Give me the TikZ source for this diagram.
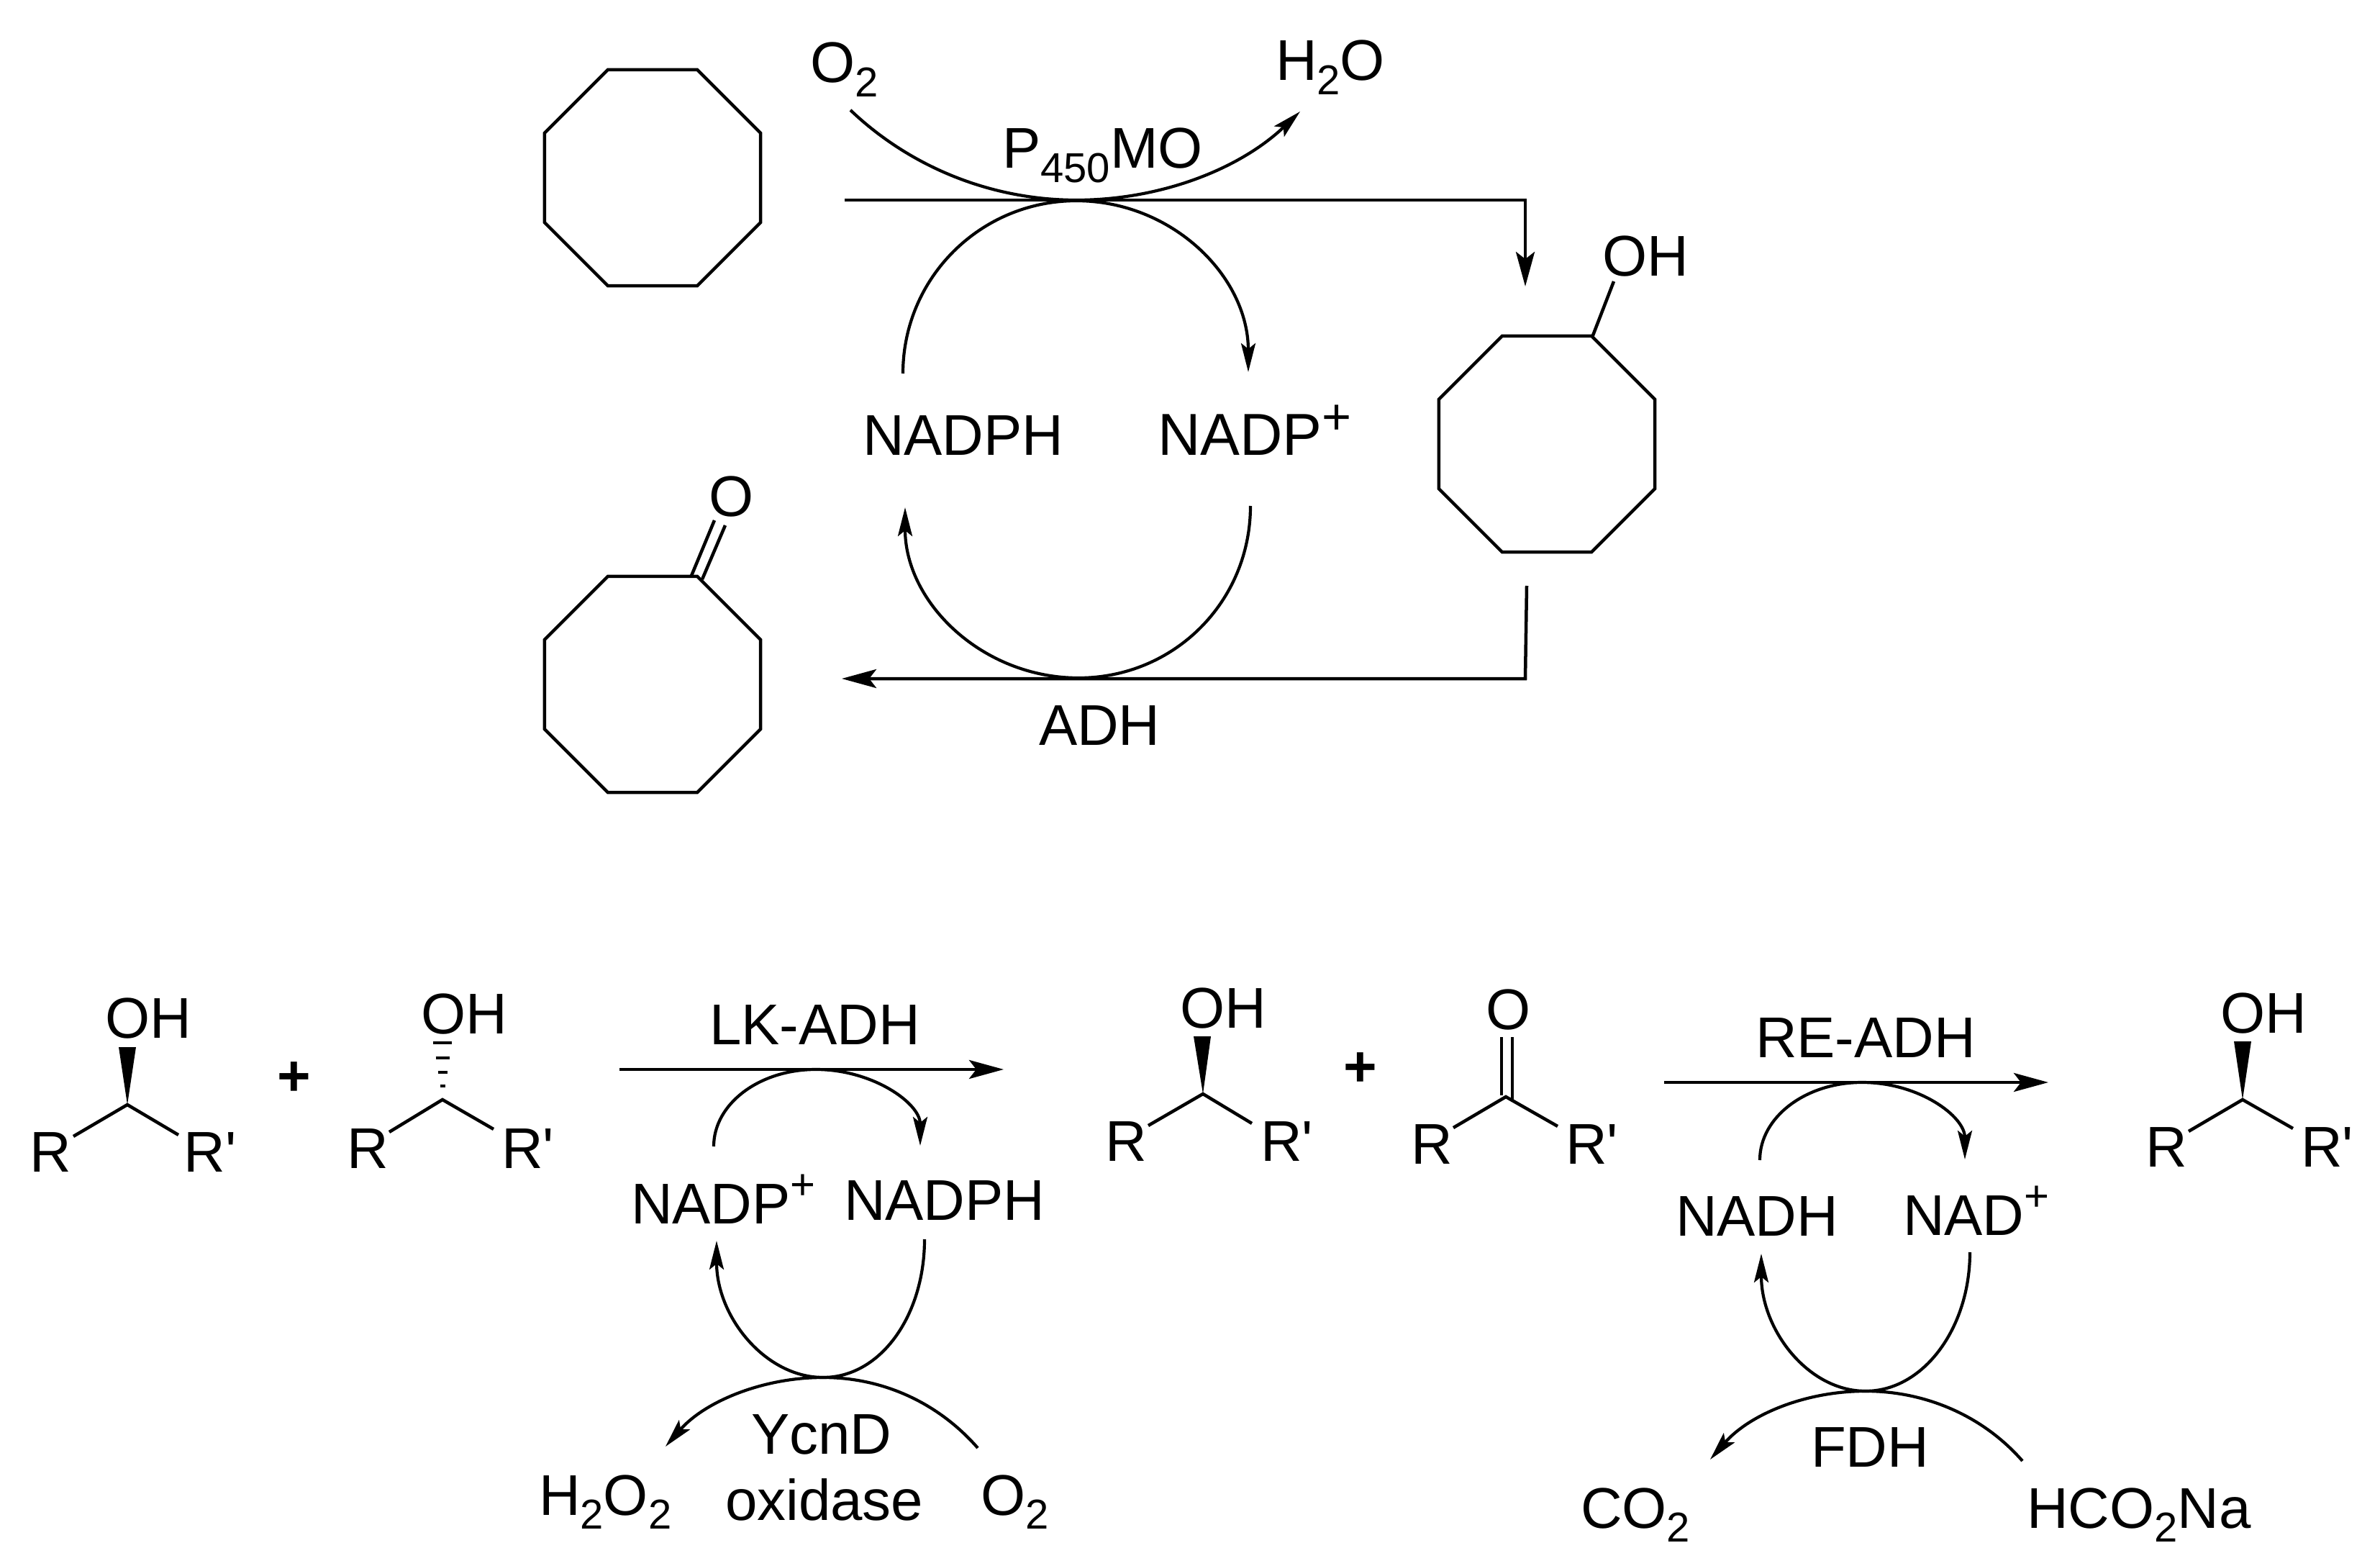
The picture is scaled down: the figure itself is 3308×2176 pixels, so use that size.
\documentclass[tikz,border=0pt]{standalone}
\usepackage{fontspec}
\setmainfont{Liberation Sans}
\usetikzlibrary{arrows.meta,shapes.geometric}
\newcommand{\sbs}[1]{\raisebox{-.25em}{\fontsize{16.5}{16}\selectfont #1}}
\newcommand{\sps}[1]{\raisebox{.42em}{\fontsize{17}{16}\selectfont #1}}
\newcommand{\rp}{R\textquotesingle}
\begin{document}
\begin{tikzpicture}[
    x=0.01cm, y=-0.01cm,
    chem/.style={anchor=base west, inner sep=0pt, outer sep=0pt, xshift=-0.04cm, font=\fontsize{22.7}{26}\selectfont},
    plus/.style={anchor=center, inner sep=0pt, outer sep=0pt, font=\fontsize{22.7}{26}\selectfont\bfseries},
    ring/.style={draw, regular polygon, regular polygon sides=8, minimum size=3.247cm, inner sep=0pt, outer sep=0pt, line width=0.045cm},
    bond/.style={line width=0.045cm},
    hash/.style={line width=0.04cm},
    rxn/.style={line width=0.045cm, -{Stealth[length=0.48cm, width=0.26cm, inset=0.1cm]}},
    turn/.style={line width=0.042cm, -{Stealth[length=0.4cm, width=0.2cm, inset=0.08cm]}},
]
    \useasboundingbox (0,0) rectangle (3308,2176);

    % Cyclooctane route
    \node[ring] (cyclooctane) at (907,247) {};
    \node[ring] (octanol) at (2150,617) {};
    \node[ring] (octanone) at (907,951) {};
    \node[chem] (ohtop) at (2231,384) {OH};
    \node[chem] (otop) at (989,717) {O};
    \coordinate (ohbond) at (2243,391);
    \draw[bond] (octanol.67.5) -- (ohbond);
    \coordinate (ca) at (961,800);
    \coordinate (cb) at (993,723);
    \coordinate (cc) at (976,805);
    \coordinate (cd) at (1008,730);
    \draw[bond] (ca) -- (cb);
    \draw[bond] (cc) -- (cd);

    % Labels of the upper cycle
    \node[chem] (o2top) at (1130,115) {O\sbs{2}};
    \node[chem] (h2otop) at (1777,112) {H\sbs{2}O};
    \node[chem] (p450) at (1397,234) {P\sbs{450}MO};
    \node[chem] (nadphtop) at (1203,633) {NADPH};
    \node[chem, font=\fontsize{23.4}{26}\selectfont] (nadptop) at (1613,633) {NADP\raisebox{.36em}{\fontsize{20}{16}\selectfont +}};
    \node[chem] (adh) at (1448,1035) {ADH};

    % Main arrows
    \coordinate (hstart) at (1174,278);
    \coordinate (hcorner) at (2120,278);
    \coordinate (hend) at (2120,398);
    \coordinate (kstart) at (2122,814);
    \coordinate (kcorner) at (2120,943);
    \coordinate (kend) at (1170,943);
    \draw[rxn] (hstart) -- (hcorner) -- (hend);
    \draw[rxn] (kstart) -- (kcorner) -- (kend);

    % Curved arrows of the upper cycle
    \coordinate (oa) at (1182,153);
    \coordinate (ob) at (1496,278);
    \coordinate (oc) at (1807,155);
    \draw[turn] (oa) .. controls (1266,233) and (1379,278) .. (ob) .. controls (1613,278) and (1723,235) .. (oc);
    \coordinate (na) at (1255,519);
    \coordinate (nb) at (1496,279);
    \coordinate (nc) at (1735,517);
    \draw[turn] (na) .. controls (1255,386) and (1363,279) .. (nb) .. controls (1629,279) and (1735,384) .. (nc);
    \coordinate (ma) at (1738,703);
    \coordinate (mb) at (1499,942);
    \coordinate (mc) at (1258,705);
    \draw[turn] (ma) .. controls (1738,836) and (1632,942) .. (mb) .. controls (1366,942) and (1258,838) .. (mc);

    % Racemic alcohol, first enantiomer
    \coordinate (ac) at (177,1535);
    \coordinate (al) at (102,1579);
    \coordinate (ar) at (248,1577);
    \coordinate (awa) at (165,1455);
    \coordinate (awb) at (189,1455);
    \fill (ac) -- (awa) -- (awb) -- cycle;
    \draw[bond] (al) -- (ac) -- (ar);
    \node[chem] (aoh) at (150,1442) {OH};
    \node[chem] (ar1) at (46,1628) {R};
    \node[chem] (ar2) at (260,1628) {\rp};
    \node[plus] (plusa) at (409,1499) {+};

    % Racemic alcohol, second enantiomer
    \coordinate (bc) at (615,1528);
    \coordinate (bl) at (541,1573);
    \coordinate (br) at (686,1569);
    \draw[bond] (bl) -- (bc) -- (br);
    \foreach \hy/\hw in {1449/13,1470/9.5,1490/6.5,1509/3.5}
        \draw[hash] (615-\hw,\hy) -- (615+\hw,\hy);
    \node[chem] (boh) at (589,1436) {OH};
    \node[chem] (br1) at (486,1623) {R};
    \node[chem] (br2) at (701,1623) {\rp};

    % LK-ADH step
    \coordinate (lstart) at (861,1486);
    \coordinate (lend) at (1395,1486);
    \draw[rxn] (lstart) -- (lend);
    \node[chem] (lkadh) at (990,1451) {LK-ADH};
    \node[chem] (nadpl) at (881,1700) {NADP\sps{+}};
    \node[chem] (nadphl) at (1177,1695) {NADPH};
    \coordinate (la) at (992,1593);
    \coordinate (lb) at (1134,1486);
    \coordinate (lc) at (1279,1592);
    \draw[turn] (la) .. controls (992,1534) and (1055,1486) .. (lb) .. controls (1213,1486) and (1279,1533) .. (lc);
    \coordinate (pa) at (1285,1722);
    \coordinate (pb) at (1144,1914);
    \coordinate (pc) at (996,1724);
    \draw[turn] (pa) .. controls (1285,1828) and (1224,1914) .. (pb) .. controls (1064,1914) and (996,1830) .. (pc);
    \coordinate (qa) at (1359,2012);
    \coordinate (qc) at (925,2010);
    \draw[turn] (qa) .. controls (1304,1949) and (1227,1914) .. (pb) .. controls (1061,1914) and (980,1947) .. (qc);
    \node[chem] (ycnd) at (1048,2020) {YcnD};
    \node[chem] (oxidase) at (1012,2112) {oxidase};
    \node[chem] (h2o2) at (753,2105) {H\sbs{2}O\sbs{2}};
    \node[chem] (o2low) at (1367,2105) {O\sbs{2}};

    % Alcohol and ketone after the first step
    \coordinate (dc) at (1672,1520);
    \coordinate (dl) at (1596,1564);
    \coordinate (dr) at (1740,1561);
    \coordinate (dwa) at (1659,1440);
    \coordinate (dwb) at (1683,1440);
    \fill (dc) -- (dwa) -- (dwb) -- cycle;
    \draw[bond] (dl) -- (dc) -- (dr);
    \node[chem] (doh) at (1644,1428) {OH};
    \node[chem] (dr1) at (1540,1613) {R};
    \node[chem] (dr2) at (1756,1613) {\rp};
    \node[plus] (plusb) at (1891,1486) {+};
    \coordinate (ec) at (2093,1524);
    \coordinate (el) at (2020,1567);
    \coordinate (er) at (2165,1565);
    \draw[bond] (el) -- (ec) -- (er);
    \coordinate (eda) at (2087,1441);
    \coordinate (edb) at (2087,1522);
    \coordinate (edc) at (2102,1441);
    \coordinate (edd) at (2102,1531);
    \draw[bond] (eda) -- (edb);
    \draw[bond] (edc) -- (edd);
    \node[chem] (eo) at (2069,1430) {O};
    \node[chem] (er1) at (1965,1617) {R};
    \node[chem] (er2) at (2180,1617) {\rp};

    % RE-ADH step
    \coordinate (rstart) at (2313,1504);
    \coordinate (rend) at (2847,1504);
    \draw[rxn] (rstart) -- (rend);
    \node[chem] (readh) at (2444,1469) {RE-ADH};
    \node[chem] (nadh) at (2333,1717) {NADH};
    \node[chem] (nad) at (2649,1716) {NAD\sps{+}};
    \coordinate (sa) at (2446,1612);
    \coordinate (sb) at (2588,1504);
    \coordinate (sc) at (2731,1611);
    \draw[turn] (sa) .. controls (2446,1552) and (2510,1504) .. (sb) .. controls (2667,1504) and (2731,1551) .. (sc);
    \coordinate (ta) at (2738,1740);
    \coordinate (tb) at (2593,1933);
    \coordinate (tc) at (2448,1742);
    \draw[turn] (ta) .. controls (2738,1846) and (2673,1933) .. (tb) .. controls (2513,1933) and (2448,1848) .. (tc);
    \coordinate (ua) at (2811,2030);
    \coordinate (uc) at (2377,2028);
    \draw[turn] (ua) .. controls (2756,1967) and (2676,1933) .. (tb) .. controls (2510,1933) and (2432,1965) .. (uc);
    \node[chem] (fdh) at (2521,2038) {FDH};
    \node[chem] (co2) at (2201,2123) {CO\sbs{2}};
    \node[chem] (formate) at (2821,2123) {HCO\sbs{2}Na};

    % Final alcohol
    \coordinate (fc) at (3117,1528);
    \coordinate (fl) at (3042,1572);
    \coordinate (fr) at (3187,1568);
    \coordinate (fwa) at (3105,1447);
    \coordinate (fwb) at (3129,1447);
    \fill (fc) -- (fwa) -- (fwb) -- cycle;
    \draw[bond] (fl) -- (fc) -- (fr);
    \node[chem] (foh) at (3090,1435) {OH};
    \node[chem] (fr1) at (2986,1621) {R};
    \node[chem] (fr2) at (3202,1621) {\rp};
\end{tikzpicture}
\end{document}
